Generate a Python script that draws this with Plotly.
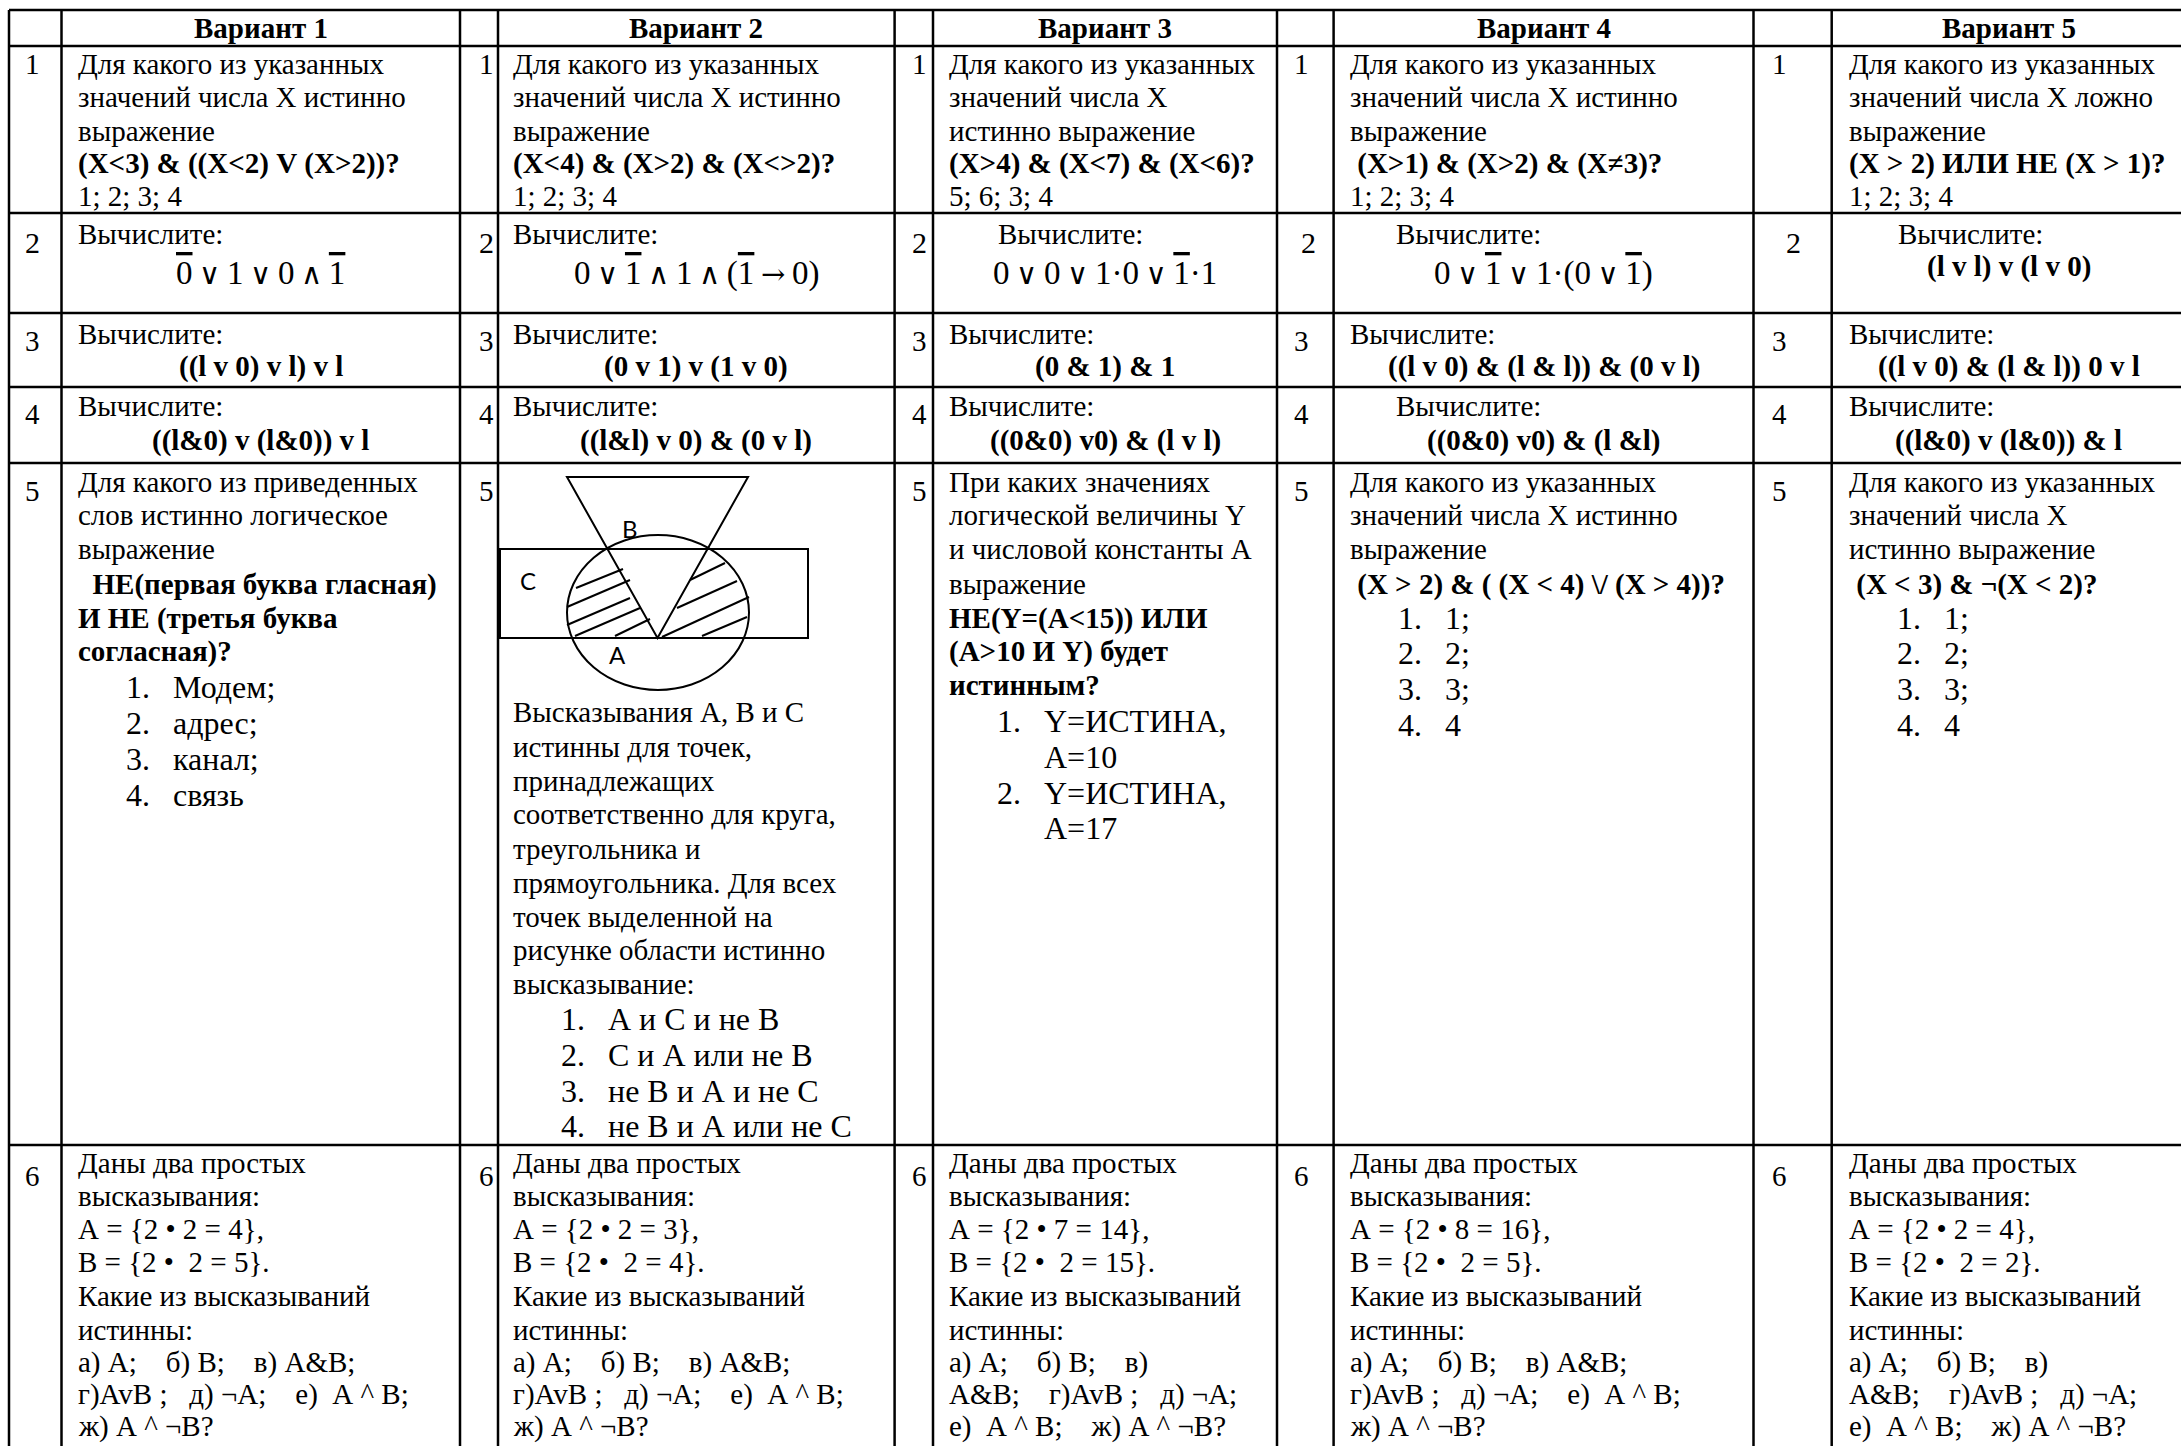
import plotly.graph_objects as go

# ---------------- table content ----------------
headers = ["Вариант 1", "Вариант 2", "Вариант 3", "Вариант 4", "Вариант 5"]
row_numbers = ["1", "2", "3", "4", "5", "6"]

# a leading "*" marks a bold line
q1_text = [
    ["Для какого из указанных", "значений числа X истинно", "выражение",
     "*(X<3) & ((X<2) V (X>2))?", "1; 2; 3; 4"],
    ["Для какого из указанных", "значений числа X истинно", "выражение",
     "*(X<4) & (X>2) & (X<>2)?", "1; 2; 3; 4"],
    ["Для какого из указанных", "значений числа X", "истинно выражение",
     "*(X>4) & (X<7) & (X<6)?", "5; 6; 3; 4"],
    ["Для какого из указанных", "значений числа X истинно", "выражение",
     "* (X>1) & (X>2) & (X≠3)?", "1; 2; 3; 4"],
    ["Для какого из указанных", "значений числа X ложно", "выражение",
     "*(X > 2) ИЛИ НЕ (X > 1)?", "1; 2; 3; 4"],
]

calc_word = "Вычислите:"
# "~" after a digit = negation bar over it
q2_expr = [
    "0~∨1∨0∧1~",
    "0∨1~∧1∧(1~→0)",
    "0∨0∨1·0∨1~·1",
    "0∨1~∨1·(0∨1~)",
    "*(l v l) v (l v 0)",
]
q3_expr = [
    "*((l v 0) v l) v l",
    "*(0 v 1) v (1 v 0)",
    "*(0 & 1) & 1",
    "*((l v 0) & (l & l)) & (0 v l)",
    "*((l v 0) & (l & l)) 0 v l",
]
q4_expr = [
    "*((l&0) v (l&0)) v l",
    "*((l&l) v 0) & (0 v l)",
    "*((0&0) v0) & (l v l)",
    "*((0&0) v0) & (l &l)",
    "*((l&0) v (l&0)) & l",
]

q5_text = [
    ["Для какого из приведенных", "слов истинно логическое", "выражение",
     "*  НЕ(первая буква гласная)", "*И НЕ (третья буква", "*согласная)?"],
    ["Высказывания А, В и С", "истинны для точек,", "принадлежащих",
     "соответственно для круга,", "треугольника и", "прямоугольника. Для всех",
     "точек выделенной на", "рисунке области истинно", "высказывание:"],
    ["При каких значениях", "логической величины Y", "и числовой константы А",
     "выражение", "*НЕ(Y=(A<15)) ИЛИ", "*(A>10 И Y) будет", "*истинным?"],
    ["Для какого из указанных", "значений числа X истинно", "выражение",
     "* (X > 2) & ( (X < 4) \\/ (X > 4))?"],
    ["Для какого из указанных", "значений числа X", "истинно выражение",
     "* (X < 3) & ¬(X < 2)?"],
]
q5_items = [
    ["Модем;", "адрес;", "канал;", "связь"],
    ["А и С и не В", "С и А или не В", "не В и А и не С", "не В и А или не С"],
    ["Y=ИСТИНА,|A=10", "Y=ИСТИНА,|A=17"],
    ["1;", "2;", "3;", "4"],
    ["1;", "2;", "3;", "4"],
]
diagram_labels = ["B", "C", "A"]

q6_text = [
    ["Даны два простых", "высказывания:", "A = {2 • 2 = 4},", "B = {2 •  2 = 5}.",
     "Какие из высказываний", "истинны:", "а) A;    б) B;    в) A&B;",
     "г)AvB ;   д) ¬A;    е)  A ^ B;", "ж) A ^ ¬B?"],
    ["Даны два простых", "высказывания:", "A = {2 • 2 = 3},", "B = {2 •  2 = 4}.",
     "Какие из высказываний", "истинны:", "а) A;    б) B;    в) A&B;",
     "г)AvB ;   д) ¬A;    е)  A ^ B;", "ж) A ^ ¬B?"],
    ["Даны два простых", "высказывания:", "A = {2 • 7 = 14},", "B = {2 •  2 = 15}.",
     "Какие из высказываний", "истинны:", "а) A;    б) B;    в)",
     "A&B;    г)AvB ;   д) ¬A;", "е)  A ^ B;    ж) A ^ ¬B?"],
    ["Даны два простых", "высказывания:", "A = {2 • 8 = 16},", "B = {2 •  2 = 5}.",
     "Какие из высказываний", "истинны:", "а) A;    б) B;    в) A&B;",
     "г)AvB ;   д) ¬A;    е)  A ^ B;", "ж) A ^ ¬B?"],
    ["Даны два простых", "высказывания:", "A = {2 • 2 = 4},", "B = {2 •  2 = 2}.",
     "Какие из высказываний", "истинны:", "а) A;    б) B;    в)",
     "A&B;    г)AvB ;   д) ¬A;", "е)  A ^ B;    ж) A ^ ¬B?"],
]

# ---------------- page geometry (pixels of the photographed page) ----------------
W, H = 2181, 1446
SERIF = "Liberation Serif, Times New Roman, serif"
OPS_FONT = "DejaVu Serif"
SANS = "Lato, Open Sans, sans-serif"
FS = 29

col_edges = [9, 61.5, 460, 498, 894.6, 933, 1277, 1333.6, 1753.5, 1831.7, 2186]
row_edges = [10, 46, 213, 313, 387, 463, 1145]
text_x = [77, 512, 948, 1348.5, 1848]
num_x = [24, 478, 911, 1293, 1771]
num_y = [64, 242, 341, 414, 491, 1176]
num_shift_row2 = [0, 0, 0, 7, 14]
calc_x = [[77, 512, 997, 1395, 1897],
          [77, 512, 948, 1348.5, 1848],
          [77, 512, 948, 1395, 1848]]
calc_y = [(234, 273), (334, 366), (406, 440)]
q1_y = [64, 97, 131, 163, 196]
q5_y = [
    [482, 515, 549, 584, 618, 651],
    [712, 747, 781, 814, 849, 883, 917, 950, 984],
    [482, 515, 549, 584, 618, 651, 685],
    [482, 515, 549, 584],
    [482, 515, 549, 584],
]
q5_list_y = [
    [687, 723, 759, 795],
    [1019, 1055, 1091, 1126],
    [721, 757, 793, 828],
    [618, 653, 689, 725],
    [618, 653, 689, 725],
]
q6_y = [1163, 1196, 1229, 1262, 1296, 1330, 1362, 1394, 1426]

ann = []


def esc(s):
    s = s.replace("&", "&amp;").replace("<", "&lt;").replace(">", "&gt;")
    return s.replace(" ", "\u00a0")


def put(x, y, line, size=FS, anchor="left", family=SERIF, raw=False):
    bold = line.startswith("*")
    body = line[1:] if bold else line
    txt = body if raw else esc(body)
    if bold:
        txt = "<b>" + txt + "</b>"
    ann.append(dict(x=x, y=y, xref="x", yref="y", text=txt, showarrow=False,
                    xanchor=anchor, yanchor="middle", borderpad=0,
                    font=dict(family=family, size=size, color="black")))


def math_text(e):
    # digits with a bar -> overline; logic operators in a thin math font
    out = []
    for i, ch in enumerate(e):
        if ch == "~":
            continue
        nxt = e[i + 1] if i + 1 < len(e) else ""
        if nxt == "~":
            out.append('<span style="text-decoration:overline">' + ch + "</span>")
        elif ch in "∨∧→":
            out.append("\u2009<span style=\"font-family:'%s';font-size:29px\">%s</span>\u2009"
                       % (OPS_FONT, ch))
        else:
            out.append(ch)
    return "".join(out)


fig = go.Figure()

# grid lines
for xe in col_edges:
    fig.add_shape(type="line", x0=xe, x1=xe, y0=row_edges[0], y1=H + 20,
                  line=dict(color="black", width=2.5))
for ye in row_edges:
    fig.add_shape(type="line", x0=col_edges[0], x1=col_edges[-1], y0=ye, y1=ye,
                  line=dict(color="black", width=2.5))

centers = [(col_edges[2 * i + 1] + col_edges[2 * i + 2]) / 2 for i in range(5)]

for v in range(5):
    put(centers[v], 28, "*" + headers[v], anchor="center")
    # question numbers
    for r, n in enumerate(row_numbers):
        dx = num_shift_row2[v] if r == 1 else 0
        put(num_x[v] + dx, num_y[r], n, size=30 if r == 1 else FS)
    # question 1
    for y, line in zip(q1_y, q1_text[v]):
        put(text_x[v], y, line)
    # questions 2-4
    for k, exprs in enumerate([q2_expr, q3_expr, q4_expr]):
        put(calc_x[k][v], calc_y[k][0], calc_word)
        e = exprs[v]
        if k == 0 and not e.startswith("*"):
            put(centers[v], calc_y[k][1], math_text(e), size=33, anchor="center",
                raw=True)
        elif k == 0:
            put(centers[v], calc_y[k][1] - 7, e, anchor="center")
        else:
            put(centers[v], calc_y[k][1], e, anchor="center")
    # question 5
    for y, line in zip(q5_y[v], q5_text[v]):
        put(text_x[v], y, line)
    ys = iter(q5_list_y[v])
    for i, item in enumerate(q5_items[v]):
        parts = item.split("|")
        for j, p in enumerate(parts):
            y = next(ys)
            if j == 0:
                put(text_x[v] + 48, y, f"{i + 1}.", size=32)
            put(text_x[v] + 95, y, p, size=32)
    # question 6
    for y, line in zip(q6_y, q6_text[v]):
        put(text_x[v], y, line)

# diagram in variant 2, question 5: triangle B, circle A, rectangle C
dl = dict(color="black", width=2)
fig.add_shape(type="path", path="M 567,477 L 748,477 L 657.5,638 Z", line=dl)
fig.add_shape(type="rect", x0=500, x1=808, y0=549, y1=638, line=dl)
fig.add_shape(type="circle", x0=567, x1=749, y0=535, y1=690, line=dl)
hatch = [
    (576, 588, 623, 569), (567, 607, 630, 580), (567, 625, 630, 598),
    (575, 636, 640, 608), (615, 636, 650, 619),
    (690, 580, 725, 563), (677, 608, 737, 581), (662, 637, 749, 597),
    (702, 636, 747, 617),
]
for x0, y0, x1, y1 in hatch:
    fig.add_shape(type="line", x0=x0, y0=y0, x1=x1, y1=y1, line=dl)
for (lx, ly), lab in zip([(630, 528), (528, 580), (617, 654)], diagram_labels):
    put(lx, ly, lab, size=24, anchor="center", family=SANS)

fig.update_layout(
    width=W, height=H,
    margin=dict(l=0, r=0, t=0, b=0),
    paper_bgcolor="white", plot_bgcolor="white",
    xaxis=dict(range=[0, W], visible=False, fixedrange=True),
    yaxis=dict(range=[H, 0], visible=False, fixedrange=True),
    annotations=ann,
    showlegend=False,
)

fig.write_html("out.html", config={"displayModeBar": False},
               post_script="document.body.style.margin='0';document.body.style.overflow='hidden';")
